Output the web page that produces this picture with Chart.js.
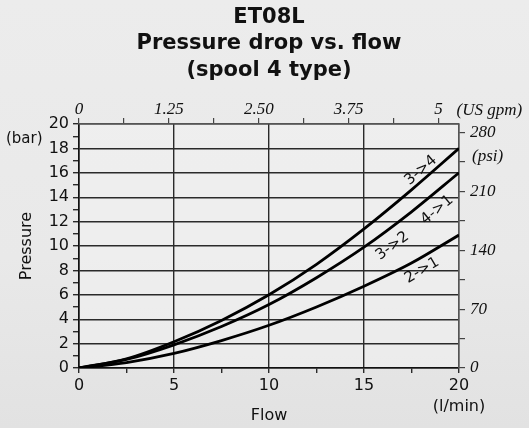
<!DOCTYPE html>
<html><head><meta charset="utf-8">
<script src="https://cdn.jsdelivr.net/npm/chart.js@4/dist/chart.umd.min.js"></script>
<style>html,body{margin:0;padding:0;background:#e9e9e9;overflow:hidden}#wrap{width:529px;height:428px;position:relative}</style>
</head><body><div id="wrap"><canvas id="c" width="529" height="428"></canvas></div>
<script>
// ---- data ----
const titleLines = ['ET08L', 'Pressure drop vs. flow', '(spool 4 type)'];
const flow = [0, 2.5, 5, 7.5, 10, 12.5, 15, 17.5, 20];          // l/min
const p34 = [0, 0.75, 2.15, 3.9, 6.0, 8.5, 11.4, 14.6, 18.0];    // bar
const p32 = [0, 0.7, 1.9, 3.4, 5.2, 7.4, 9.9, 12.8, 16.0];       // bar (3->2 / 4->1)
const p21 = [0, 0.45, 1.2, 2.25, 3.5, 5.0, 6.7, 8.6, 10.9];      // bar
const seriesNames = ['3->4', '3->2 / 4->1', '2->1'];
const curveLabels = ['3->4', '4->1', '3->2', '2->1'];
const labelSeries = [0, 1, 1, 2];
const labelFlow = [18.0, 18.85, 16.5, 18.05];
const labelBar = [16.2, 12.95, 10.0, 8.0];
const barTicks = [0, 2, 4, 6, 8, 10, 12, 14, 16, 18, 20];
const flowTicks = [0, 5, 10, 15, 20];
const gpmTicks = ['0', '1.25', '2.50', '3.75', '5'];
const psiTicks = [0, 70, 140, 210, 280];
const LPM_PER_GPM = 3.78541, PSI_PER_BAR = 14.5038;

const seriesValues = [p34, p32, p21];
const toXY = arr => flow.map((f, i) => ({x: f, y: arr[i]}));

const SANS = '"DejaVu Sans", Verdana, sans-serif';
const SERIF = '"Liberation Serif", "Times New Roman", serif';
const INK = '#111';
const GRID = '#2a2a2a';

const decor = {
  id: 'decor',
  beforeDraw(chart) {
    const {ctx, width, height} = chart;
    ctx.save();
    const g = ctx.createLinearGradient(0, 0, 0, height);
    g.addColorStop(0, '#ececec');
    g.addColorStop(0.6, '#e9e9e9');
    g.addColorStop(1, '#e2e2e2');
    ctx.fillStyle = g;
    ctx.fillRect(0, 0, width, height);
    const a = chart.chartArea;
    ctx.fillStyle = 'rgba(245,245,245,0.45)';
    ctx.fillRect(a.left, a.top, a.right - a.left, a.bottom - a.top);
    ctx.restore();
  },
  afterDraw(chart) {
    const {ctx} = chart;
    const a = chart.chartArea;
    const xs = chart.scales.x, ys = chart.scales.y;
    ctx.save();
    ctx.fillStyle = INK;
    // title
    ctx.font = 'bold 21px ' + SANS;
    ctx.textAlign = 'center';
    ctx.textBaseline = 'alphabetic';
    const cx = (a.left + a.right) / 2;
    const base = [23, 49, 76];
    titleLines.forEach((t, i) => ctx.fillText(t, cx, base[i]));
    // unit labels
    ctx.font = '15px ' + SANS;
    ctx.textAlign = 'left';
    ctx.fillText('(bar)', 6, 143);
    ctx.font = '16px ' + SANS;
    ctx.textAlign = 'center';
    ctx.fillText('(l/min)', xs.getPixelForValue(20), 411);
    ctx.font = 'italic 17px ' + SERIF;
    ctx.textAlign = 'left';
    ctx.fillText('(psi)', a.right + 13, 161);
    ctx.fillText('(US gpm)', chart.scales.x2.getPixelForValue(5) + 18, 115);
    // curve labels, rotated along the curve slope
    ctx.font = '15px ' + SANS;
    ctx.textAlign = 'center';
    ctx.textBaseline = 'middle';
    curveLabels.forEach((t, k) => {
      const vals = seriesValues[labelSeries[k]];
      const fx = labelFlow[k];
      let i = 0;
      while (i < flow.length - 2 && flow[i + 1] < fx) i++;
      const dx = xs.getPixelForValue(flow[i + 1]) - xs.getPixelForValue(flow[i]);
      const dy = ys.getPixelForValue(vals[i + 1]) - ys.getPixelForValue(vals[i]);
      const ang = Math.atan2(dy, dx);
      ctx.save();
      ctx.translate(xs.getPixelForValue(fx), ys.getPixelForValue(labelBar[k]));
      ctx.rotate(ang);
      ctx.fillText(t, 0, 0);
      ctx.restore();
    });
    ctx.restore();
  }
};

const near = (v, list) => list.some(t => Math.abs(t - v) < 1e-6);

new Chart(document.getElementById('c'), {
  type: 'line',
  data: {
    datasets: seriesValues.map((arr, i) => ({
      label: seriesNames[i],
      data: toXY(arr),
      borderColor: '#000',
      borderWidth: 2.8,
      pointRadius: 0,
      fill: false,
      cubicInterpolationMode: 'monotone',
      xAxisID: 'x',
      yAxisID: 'y'
    }))
  },
  options: {
    responsive: false,
    devicePixelRatio: 1,
    animation: false,
    layout: {padding: 0},
    plugins: {legend: {display: false}, title: {display: false}, tooltip: {enabled: false}},
    scales: {
      x: {
        type: 'linear', position: 'bottom', min: 0, max: 20,
        afterBuildTicks: s => { s.ticks = [0, 2.5, 5, 7.5, 10, 12.5, 15, 17.5, 20].map(v => ({value: v})); },
        afterFit: s => { s.height = 60; },
        ticks: {
          autoSkip: false, maxRotation: 0, padding: 3, color: INK,
          font: {family: SANS, size: 16},
          callback: v => near(v, flowTicks) ? String(v) : ''
        },
        grid: {
          color: c => near(c.tick.value, flowTicks) ? GRID : 'transparent',
          tickColor: GRID, lineWidth: 1.4, tickLength: 5
        },
        border: {display: true, color: '#111', width: 1.6},
        title: {display: true, text: 'Flow', color: INK, font: {family: SANS, size: 16}, padding: {top: 0, bottom: 3}}
      },
      y: {
        type: 'linear', position: 'left', min: 0, max: 20,
        afterBuildTicks: s => { const t = []; for (let v = 0; v <= 20; v++) t.push({value: v}); s.ticks = t; },
        afterFit: s => { s.width = 79; },
        ticks: {
          autoSkip: false, padding: 4, color: INK,
          font: {family: SANS, size: 16},
          callback: v => near(v, barTicks) ? String(v) : ''
        },
        grid: {
          color: c => near(c.tick.value, barTicks) ? GRID : 'transparent',
          tickColor: GRID, lineWidth: 1.4, tickLength: 6
        },
        border: {display: true, color: '#111', width: 1.6},
        title: {display: true, text: 'Pressure', color: INK, font: {family: SANS, size: 16}, padding: {top: 17, bottom: 0}}
      },
      x2: {
        type: 'linear', position: 'top', min: 0, max: 20 / LPM_PER_GPM,
        afterBuildTicks: s => { const t = []; for (let k = 0; k <= 8; k++) t.push({value: k * 0.625}); s.ticks = t; },
        afterFit: s => { s.height = 124; },
        ticks: {
          autoSkip: false, maxRotation: 0, padding: -2, color: INK,
          font: {family: SERIF, size: 17, style: 'italic'},
          callback: v => { const k = v / 1.25; return Math.abs(k - Math.round(k)) < 1e-6 ? gpmTicks[Math.round(k)] : ''; }
        },
        grid: {drawOnChartArea: false, color: '#444', tickColor: '#444', tickLength: 6, lineWidth: 1.2},
        border: {display: true, color: '#555', width: 1.4}
      },
      y2: {
        type: 'linear', position: 'right', min: 0, max: 20 * PSI_PER_BAR,
        afterBuildTicks: s => { const t = []; for (let v = 0; v <= 280; v += 35) t.push({value: v}); s.ticks = t; },
        afterFit: s => { s.width = 70; },
        ticks: {
          autoSkip: false, padding: 5, color: INK,
          font: {family: SERIF, size: 17, style: 'italic'},
          callback: v => near(v, psiTicks) ? String(v) : ''
        },
        grid: {drawOnChartArea: false, color: '#444', tickColor: '#444', tickLength: 6, lineWidth: 1.2},
        border: {display: true, color: '#555', width: 1.4}
      }
    }
  },
  plugins: [decor]
});
</script>
</body></html>
